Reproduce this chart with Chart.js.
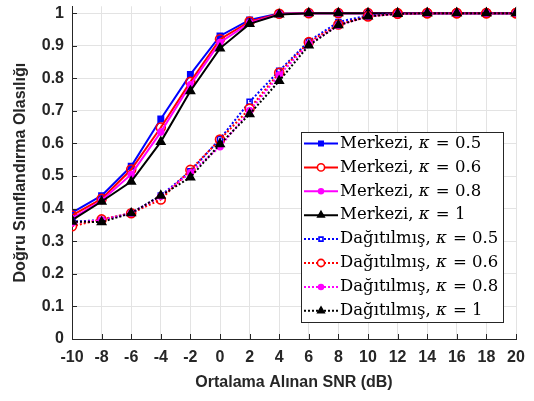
<!DOCTYPE html>
<html><head><meta charset="utf-8">
<script src="https://cdn.jsdelivr.net/npm/chart.js@4/dist/chart.umd.min.js"></script>
<style>html,body{margin:0;padding:0;background:#fff}#wrap{width:534px;height:401px}</style>
</head><body><div id="wrap"><canvas id="c" width="534" height="401"></canvas></div>
<script>
const snr = [-10,-8,-6,-4,-2,0,2,4,6,8,10,12,14,16,18,20];
const xTicks = [-10,-8,-6,-4,-2,0,2,4,6,8,10,12,14,16,18,20];
const yTicks = [0,0.1,0.2,0.3,0.4,0.5,0.6,0.7,0.8,0.9,1];
const merk05 = [0.388,0.440,0.530,0.675,0.812,0.930,0.979,0.999,1,1,1,1,1,1,1,1];
const merk06 = [0.379,0.430,0.520,0.649,0.789,0.920,0.974,0.998,1,1,1,1,1,1,1,1];
const merk08 = [0.370,0.425,0.505,0.635,0.780,0.910,0.970,0.997,1,1,1,1,1,1,1,1];
const merk1  = [0.365,0.422,0.483,0.605,0.761,0.892,0.967,0.996,1,1,1,1,1,1,1,1];
const dag05  = [0.360,0.365,0.386,0.440,0.515,0.614,0.728,0.823,0.914,0.973,0.993,0.999,1,1,1,1];
const dag06  = [0.346,0.367,0.386,0.428,0.519,0.612,0.707,0.817,0.911,0.965,0.990,0.998,1,1,1,1];
const dag08  = [0.356,0.365,0.386,0.438,0.510,0.590,0.700,0.810,0.905,0.963,0.990,0.998,1,1,1,1];
const dag1   = [0.360,0.359,0.386,0.440,0.496,0.598,0.690,0.792,0.901,0.963,0.990,0.998,1,1,1,1];
const labelsPre = ['Merkezi, ','Merkezi, ','Merkezi, ','Merkezi, ','Dağıtılmış, ','Dağıtılmış, ','Dağıtılmış, ','Dağıtılmış, '];
const kappas = ['0.5','0.6','0.8','1','0.5','0.6','0.8','1'];

const series = [merk05,merk06,merk08,merk1,dag05,dag06,dag08,dag1];
const colors = ['#0000ff','#ff0000','#ff00ff','#000000','#0000ff','#ff0000','#ff00ff','#000000'];
const shapes = ['rect','circle','circle','triangle','rect','circle','circle','triangle'];
const radii  = [3.5,4.5,2.8,4.8,3.5,4.5,2.8,4.8];
const bws    = [2,1.6,2,1.5,1.6,1.6,2,1.5];
const fills  = [true,false,true,true,false,false,true,true];

const datasets = series.map((s,i)=>({
  label: labelsPre[i]+'κ = '+kappas[i],
  data: s.map((v,j)=>({x:snr[j],y:v})),
  borderColor: colors[i],
  backgroundColor: fills[i]?colors[i]:'#ffffff',
  pointBorderColor: colors[i],
  pointBackgroundColor: fills[i]?colors[i]:'rgba(255,255,255,0)',
  pointStyle: shapes[i],
  pointRadius: radii[i],
  pointBorderWidth: bws[i],
  borderWidth: 2,
  borderDash: i>=4?[2,2]:[],
  tension: 0,
  fill: false,
  order: 20-i
}));

const FONT = "'Liberation Sans', Arial, sans-serif";
const SERIF = "'DejaVu Serif', 'Liberation Serif', serif";

const innerTicks = {
  id:'innerTicks',
  afterDatasetsDraw(chart){
    const ctx = chart.ctx, xs = chart.scales.x, ys = chart.scales.y, a = chart.chartArea;
    ctx.save();
    ctx.strokeStyle='#262626'; ctx.lineWidth=1;
    ctx.beginPath();
    xTicks.forEach(t=>{const px=Math.round(xs.getPixelForValue(t))+0.5; ctx.moveTo(px,a.bottom); ctx.lineTo(px,a.bottom-5);});
    yTicks.forEach(t=>{const py=Math.round(ys.getPixelForValue(t))+0.5; ctx.moveTo(a.left,py); ctx.lineTo(a.left+5,py);});
    ctx.stroke();
    ctx.restore();
  },
  afterDraw(chart){
    const ctx = chart.ctx;
    const bx=301.5, by=132.5, bw=202, bh=190;
    ctx.save();
    ctx.fillStyle='#ffffff'; ctx.fillRect(bx,by,bw,bh);
    ctx.strokeStyle='#262626'; ctx.lineWidth=1; ctx.strokeRect(bx,by,bw,bh);
    const step = 23.9;
    chart.data.datasets.forEach((ds,i)=>{
      const cy = 143.5 + i*step;
      ctx.save();
      ctx.strokeStyle = ds.borderColor; ctx.lineWidth=2;
      ctx.setLineDash(ds.borderDash); ctx.beginPath(); ctx.moveTo(304,cy); ctx.lineTo(338,cy); ctx.stroke();
      ctx.setLineDash([]);
      ctx.fillStyle=fills[i]?ds.pointBackgroundColor:'#ffffff'; ctx.strokeStyle=ds.pointBorderColor; ctx.lineWidth=ds.pointBorderWidth;
      Chart.helpers.drawPoint(ctx,{pointStyle:ds.pointStyle,radius:ds.pointRadius*0.8,borderWidth:ds.pointBorderWidth},321,cy);
      ctx.restore();
      ctx.fillStyle='#000'; ctx.textBaseline='middle'; ctx.textAlign='left';
      let x=340;
      ctx.font = "16.5px "+SERIF;
      ctx.fillText(labelsPre[i],x,cy); x+=ctx.measureText(labelsPre[i]).width;
      ctx.font = "italic 16.5px "+SERIF;
      ctx.fillText('κ',x,cy); x+=ctx.measureText('κ').width;
      ctx.font = "16.5px "+SERIF;
      ctx.fillText(' = '+kappas[i],x+1,cy);
    });
    ctx.restore();
  }
};

new Chart(document.getElementById('c'),{
  type:'line',
  data:{datasets},
  options:{
    responsive:false, animation:false,
    layout:{padding:{top:0,right:18,left:0,bottom:0}},
    plugins:{legend:{display:false},tooltip:{enabled:false}},
    scales:{
      x:{type:'linear',min:-10,max:20,
        afterBuildTicks(s){s.ticks=xTicks.map(v=>({value:v}));},
        afterFit(s){s.height=62;s.paddingLeft=0;s.paddingRight=0;},
        ticks:{font:{family:FONT,size:16,weight:'bold'},color:'#262626',padding:9,maxRotation:0,autoSkip:false},
        grid:{color:'#e3e3e3',drawTicks:false,lineWidth:1},
        border:{color:'#262626',width:1},
        title:{display:true,text:'Ortalama Alınan SNR (dB)',font:{family:FONT,size:16,weight:'bold'},color:'#262626',padding:{top:0,bottom:9}}
      },
      y:{type:'linear',min:0,max:1.021,
        afterBuildTicks(s){s.ticks=yTicks.map(v=>({value:v}));},
        afterFit(s){s.width=72;s.paddingTop=0;s.paddingBottom=0;},
        ticks:{font:{family:FONT,size:16,weight:'bold'},color:'#262626',padding:8,callback:v=>String(Math.round(v*10)/10)},
        grid:{color:'#e3e3e3',drawTicks:false,lineWidth:1},
        border:{color:'#262626',width:1},
        title:{display:true,text:'Doğru Sınıflandırma Olasılığı',font:{family:FONT,size:16,weight:'bold'},color:'#262626',padding:{top:11,bottom:4}}
      }
    }
  },
  plugins:[innerTicks]
});
</script></body></html>
